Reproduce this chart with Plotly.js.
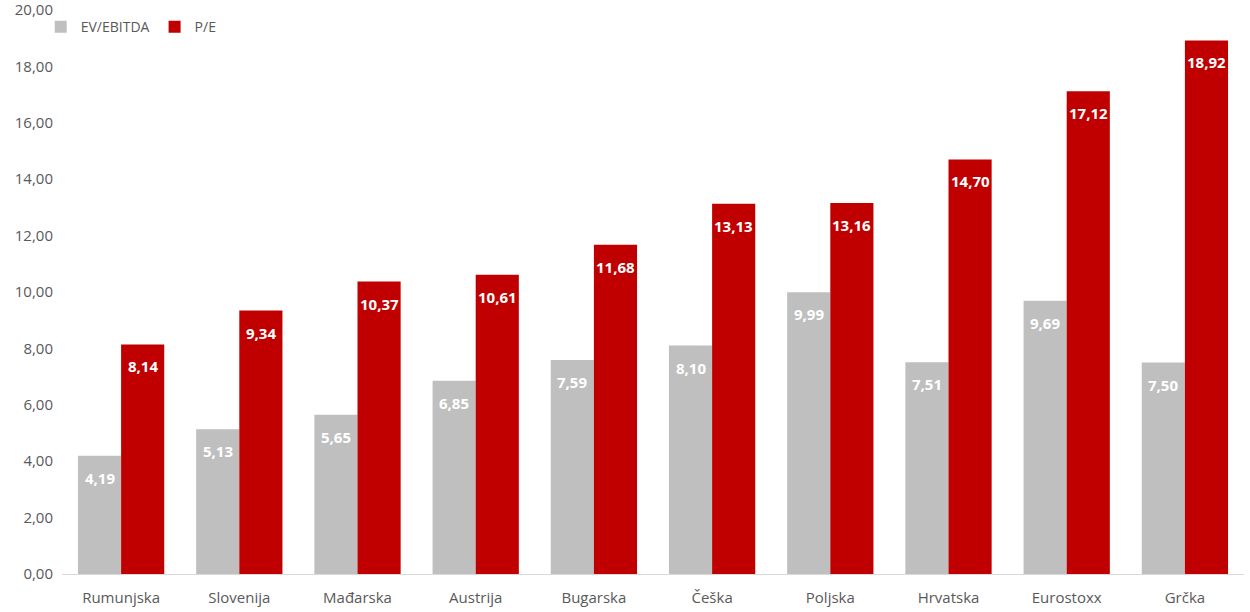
<!DOCTYPE html>
<html>
<head>
<meta charset="utf-8">
<script src="https://cdn.plot.ly/plotly-3.0.1.min.js"></script>
<style>html,body{margin:0;padding:0;background:#fff;}#chart{width:1250px;height:612px;}</style>
</head>
<body>
<div id="chart"></div>
<script>
const categories = ["Rumunjska","Slovenija","Mađarska","Austrija","Bugarska","Češka","Poljska","Hrvatska","Eurostoxx","Grčka"];
const evEbitda = [4.19,5.13,5.65,6.85,7.59,8.10,9.99,7.51,9.69,7.50];
const pe = [8.14,9.34,10.37,10.61,11.68,13.13,13.16,14.70,17.12,18.92];
const yTicks = [0,2,4,6,8,10,12,14,16,18,20];

const bargap = 0.27;
const half = (1 - bargap) / 4;
const fmt = v => v.toFixed(2).replace('.', ',');

const traces = [
  {type: 'bar', name: 'EV/EBITDA', x: categories, y: evEbitda, marker: {color: '#BFBFBF'}},
  {type: 'bar', name: 'P/E', x: categories, y: pe, marker: {color: '#C00000'}}
];

const annotations = [];
[[evEbitda, -half], [pe, half]].forEach(([vals, off]) => {
  vals.forEach((v, i) => {
    annotations.push({
      x: i + off, y: v, xref: 'x', yref: 'y',
      text: fmt(v), showarrow: false,
      xanchor: 'center', yanchor: 'middle', yshift: -22,
      font: {family: 'Open Sans, sans-serif', size: 15, color: '#ffffff', weight: 'bold'}
    });
  });
});

const layout = {
  width: 1250, height: 612,
  margin: {l: 62, r: 6, t: 10, b: 38},
  separators: ',.',
  barmode: 'group',
  bargap: bargap,
  bargroupgap: 0,
  paper_bgcolor: '#ffffff',
  plot_bgcolor: '#ffffff',
  font: {family: 'Open Sans, sans-serif', color: '#595959', size: 14},
  showlegend: true,
  legend: {orientation: 'h', x: -0.018, y: 0.998, xanchor: 'left', yanchor: 'top',
           font: {size: 14, color: '#595959'}, bgcolor: 'rgba(0,0,0,0)'},
  annotations: annotations,
  xaxis: {showgrid: false, showline: true, linecolor: '#D9D9D9', linewidth: 1,
          ticks: '', tickfont: {size: 15, color: '#595959'}, ticklabelstandoff: 10},
  yaxis: {range: [0, 20.0001], tickmode: 'array', tickvals: yTicks, tickformat: '.2f', showgrid: false,
          zeroline: false, showline: false, ticks: '', ticklabeloverflow: 'allow',
          tickfont: {size: 15, color: '#595959'}, ticklabelstandoff: 8}
};
Plotly.newPlot('chart', traces, layout, {displayModeBar: false, staticPlot: true});
</script>
</body>
</html>
